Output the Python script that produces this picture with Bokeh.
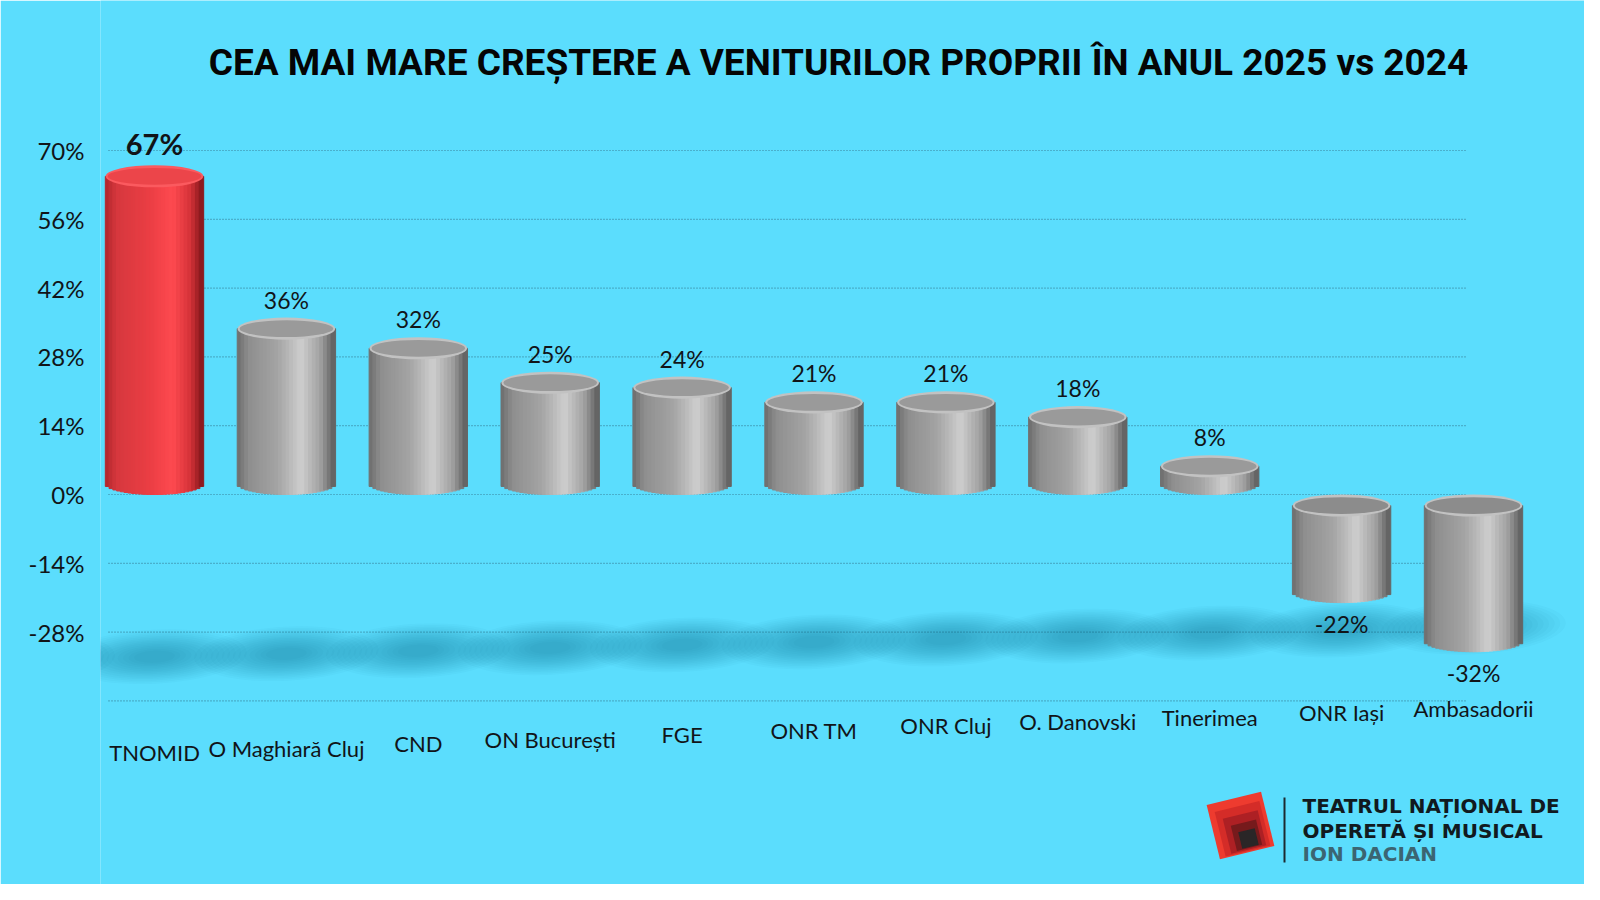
import math
from bokeh.plotting import figure
from bokeh.models import ColumnDataSource, Range1d, FixedTicker, PrintfTickFormatter
from bokeh.core.properties import value, field
from bokeh.embed import file_html
from bokeh.resources import INLINE

# data
title_text = "CEA MAI MARE CREȘTERE A VENITURILOR PROPRII ÎN ANUL 2025 vs 2024"
categories = ["TNOMID", "O Maghiară Cluj", "CND", "ON București", "FGE", "ONR TM",
              "ONR Cluj", "O. Danovski", "Tinerimea", "ONR Iași", "Ambasadorii"]
growth = [67, 36, 32, 25, 24, 21, 21, 18, 8, -22, -32]
highlight = "TNOMID"
y_ticks = [-28, -14, 0, 14, 28, 42, 56, 70]
grid_levels = [-42, -28, -14, 0, 14, 28, 42, 56, 70]
logo_lines = ["TEATRUL NAȚIONAL DE", "OPERETĂ ȘI MUSICAL", "ION DACIAN"]

# canvas geometry
W, H = 1584, 884
LEFT = 100
PX_X = 131.9     # px per category step
PX_Y = 4.914     # px per percentage point
ZERO_PY = 494    # canvas y of the 0% line
FIRST_PX = 154   # canvas x of first bar

x0 = -(FIRST_PX - LEFT) / PX_X
x1 = x0 + (W - LEFT) / PX_X
y1 = ZERO_PY / PX_Y
y0 = y1 - H / PX_Y


def dx(px):
    return x0 + (px - LEFT) / PX_X


def dy(py):
    return y1 - py / PX_Y


BG = "#5BDDFD"
FONT = "Lato"
INK = "#111418"

p = figure(width=W, height=H, x_range=Range1d(x0, x1), y_range=Range1d(y0, y1),
           output_backend="svg", toolbar_location=None, x_axis_location=None,
           min_border_left=LEFT, min_border_right=0, min_border_top=0, min_border_bottom=0,
           background_fill_color=BG, border_fill_color=BG, outline_line_color=None)
p.xgrid.visible = False
p.ygrid.visible = False
p.yaxis.ticker = FixedTicker(ticks=y_ticks)
p.yaxis.formatter = PrintfTickFormatter(format="%d%%")
p.yaxis.axis_line_color = None
p.yaxis.major_tick_line_color = None
p.yaxis.minor_tick_line_color = None
p.yaxis.major_label_text_font = FONT
p.yaxis.major_label_text_font_size = "24px"
p.yaxis.major_label_text_color = INK
p.yaxis.major_label_standoff = 10

# dotted grid lines
p.segment(x0=[dx(108)] * len(grid_levels), y0=grid_levels,
          x1=[dx(1466)] * len(grid_levels), y1=grid_levels,
          line_color="#2f6f85", line_dash="1 2", line_width=1.2, line_alpha=0.8)

# soft shadows under the cylinders
sh = dict(x=[], y=[], w=[], h=[])
for i in list(range(-1, len(categories))):
    for s in range(14):
        k = 1 - s * 0.06
        sh["x"].append(i)
        sh["y"].append(-33 + 0.6 * i)
        sh["w"].append(1.4 * k)
        sh["h"].append(11 * k)
p.ellipse(x="x", y="y", width="w", height="h", source=ColumnDataSource(sh),
          fill_color="#0a5f7d", fill_alpha=0.032, line_color=None, angle=0.05)

# cylinders
GRAY = [(0.0, (108, 108, 108)), (0.12, (142, 142, 142)), (0.42, (164, 164, 164)),
        (0.66, (206, 206, 206)), (0.86, (160, 160, 160)), (1.0, (92, 92, 92))]
RED = [(0.0, (176, 36, 42)), (0.12, (214, 56, 62)), (0.45, (234, 62, 68)),
       (0.7, (254, 74, 80)), (0.88, (212, 50, 56)), (1.0, (128, 22, 26))]


def shade(t, stops):
    for (ta, ca), (tb, cb) in zip(stops, stops[1:]):
        if ta <= t <= tb:
            f = (t - ta) / (tb - ta)
            c = [round(a + (b - a) * f) for a, b in zip(ca, cb)]
            return "#%02x%02x%02x" % tuple(c)
    return "#888888"


BAR_W = 0.74
CAP_H = 4.5
N = 26
strips = dict(x=[], top=[], bottom=[], color=[])
caps = dict(x=[], y=[], rim=[], face=[])
for i, (cat, v) in enumerate(zip(categories, growth)):
    stops = RED if cat == highlight else GRAY
    lo, hi = min(v, 0), max(v, 0)
    for k in range(N):
        t = (k + 0.5) / N
        u = 2 * t - 1
        strips["x"].append(i - BAR_W / 2 + t * BAR_W)
        strips["top"].append(hi - CAP_H / 2)
        strips["bottom"].append(lo + CAP_H / 2 - CAP_H / 2 * math.sqrt(max(0.0, 1 - u * u)))
        strips["color"].append(shade(t, stops))
    caps["x"].append(i)
    caps["y"].append(hi - CAP_H / 2)
    if cat == highlight:
        caps["rim"].append("#fb5a5f")
        caps["face"].append("#ec454a")
    else:
        caps["rim"].append("#c2c2c2")
        caps["face"].append("#9a9a9a" if v > 0 else "#8c8c8c")

p.vbar(x="x", top="top", bottom="bottom", width=BAR_W / N * 1.2, color="color",
       source=ColumnDataSource(strips))
cap_src = ColumnDataSource(caps)
p.ellipse(x="x", y="y", width=BAR_W, height=CAP_H, fill_color="rim", line_color=None,
          source=cap_src)
p.ellipse(x="x", y="y", width=BAR_W * 0.96, height=CAP_H * 0.76, fill_color="face",
          line_color=None, source=cap_src)

# value labels
lab = dict(x=list(range(len(categories))),
           y=[v + 0.8 if v >= 0 else v - 1.5 for v in growth],
           text=["%d%%" % v for v in growth],
           base=["bottom" if v >= 0 else "top" for v in growth],
           style=["bold" if c == highlight else "normal" for c in categories],
           size=["29px" if c == highlight else "23px" for c in categories])
p.text(x="x", y="y", text="text", source=ColumnDataSource(lab), text_align="center",
       text_baseline=field("base"), text_font_style=field("style"),
       text_font_size=field("size"), text_font=value(FONT), text_color=INK)

# category labels, rising slightly to the right like the perspective floor
cat_src = ColumnDataSource(dict(x=list(range(len(categories))),
                                y=[-52.5 + 0.9 * i for i in range(len(categories))],
                                text=categories))
p.text(x="x", y="y", text="text", source=cat_src, text_align="center",
       text_baseline="middle", text_font=value(FONT), text_font_size="22px",
       text_color=INK)

# title
p.text(x=[dx(838)], y=[dy(62)], text=[title_text], text_align="center",
       text_baseline="middle", text_font_style="bold", text_font_size="37px",
       text_font=value("Roboto"), text_color="#050505")

# logo
logo_sizes = [56, 46, 36, 26, 17]
logo_cols = ["#ee3b2f", "#d42c28", "#ad2024", "#761a1c", "#2a2627"]
lx, ly = [], []
for j in range(len(logo_sizes)):
    f = j / (len(logo_sizes) - 1)
    lx.append(dx(1240 + 8 * f))
    ly.append(dy(825 + 13 * f))
p.rect(x=lx, y=ly, width=logo_sizes, height=logo_sizes, angle=0.24,
       width_units="screen", height_units="screen", fill_color=logo_cols, line_color=None)
p.segment(x0=[dx(1284)], y0=[dy(797)], x1=[dx(1284)], y1=[dy(862)],
          line_color="#1c2a30", line_width=2)
p.text(x=[dx(1302)] * 3, y=[dy(805), dy(830), dy(853)], text=logo_lines,
       text_color=["#111a20", "#111a20", "#3b6572"], text_font=value("DejaVu Sans"),
       text_font_style="bold", text_font_size="20px", text_baseline="middle")

open("out.html", "w").write(file_html(p, INLINE))
